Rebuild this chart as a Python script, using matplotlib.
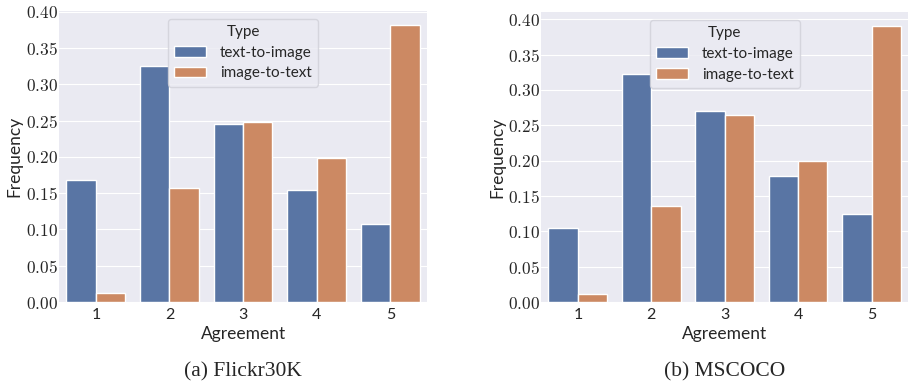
import matplotlib
matplotlib.use('Agg')
from matplotlib import pyplot as plt
from matplotlib.ticker import FuncFormatter
import numpy as np

plt.style.use('seaborn-v0_8-darkgrid')
plt.rcParams['mathtext.fontset'] = 'cm'
plt.rcParams['font.family'] = ['Lato', 'DejaVu Sans']

agreement = ['1', '2', '3', '4', '5']
types = ['text-to-image', 'image-to-text']

flickr_t2i = [0.168, 0.325, 0.245, 0.154, 0.107]
flickr_i2t = [0.012, 0.157, 0.248, 0.199, 0.382]

coco_t2i = [0.105, 0.323, 0.270, 0.178, 0.124]
coco_i2t = [0.011, 0.136, 0.264, 0.199, 0.390]

colors = ['#5975a4', '#cc8963']

fig = plt.figure(figsize=(9.11, 3.81), dpi=100)
ax1 = fig.add_axes([0.0648, 0.2073, 0.404, 0.764])
ax2 = fig.add_axes([0.594, 0.2073, 0.403, 0.760])


def draw(ax, t2i, i2t, caption):
    x = np.arange(len(agreement))
    w = 0.4
    ax.bar(x - w / 2, t2i, w, color=colors[0], edgecolor='white', linewidth=1, label=types[0])
    ax.bar(x + w / 2, i2t, w, color=colors[1], edgecolor='white', linewidth=1, label=types[1])
    ax.set_xlim(-0.5, len(agreement) - 0.5)
    ax.set_xticks(x)
    ax.set_xticklabels(agreement, fontsize=11.5)
    ax.set_yticks(np.arange(0, 0.41, 0.05))
    ax.yaxis.set_major_formatter(FuncFormatter(lambda v, p: '$%.2f$' % v))
    ax.tick_params(axis='y', labelsize=12.5, pad=1)
    ax.tick_params(axis='x', pad=4)
    ax.grid(axis='x', visible=False)
    ax.set_xlabel('Agreement', fontsize=12.5, labelpad=3)
    ax.set_ylabel('Frequency', fontsize=12.5, labelpad=2)
    ax.legend(title='Type', loc='upper center', fontsize=11, title_fontsize=11,
              frameon=True, facecolor='#EAEAF2', edgecolor='#d0d0d8', framealpha=0.8,
              handlelength=2.1, handletextpad=0.9, borderpad=0.4, labelspacing=0.45)
    ax.text(0.5, -0.24, caption, transform=ax.transAxes, ha='center', va='center',
            fontsize=15.5, family='Liberation Serif')


draw(ax1, flickr_t2i, flickr_i2t, '(a) Flickr30K')
draw(ax2, coco_t2i, coco_i2t, '(b) MSCOCO')

fig.savefig('out.png', dpi=100)
